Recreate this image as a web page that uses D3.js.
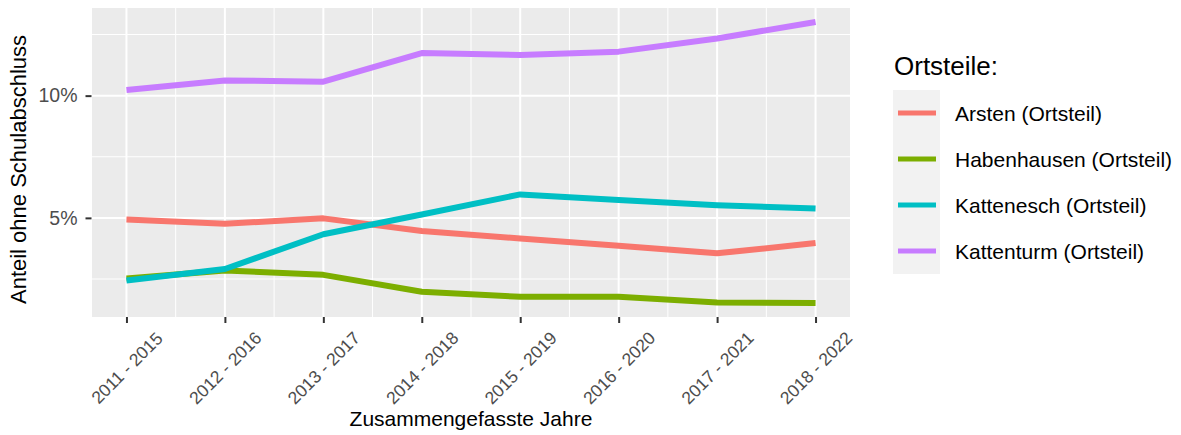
<!DOCTYPE html>
<html>
<head>
<meta charset="utf-8">
<script src="https://cdn.jsdelivr.net/npm/d3@7"></script>
<style>
  html, body { margin: 0; padding: 0; background: #fff; }
  svg { display: block; }
  text { font-family: "Liberation Sans", Arial, sans-serif; }
</style>
</head>
<body>
<div id="chart"></div>
<script>
const categories = ["2011 - 2015", "2012 - 2016", "2013 - 2017", "2014 - 2018", "2015 - 2019", "2016 - 2020", "2017 - 2021", "2018 - 2022"];
const seriesNames = ["Arsten (Ortsteil)", "Habenhausen (Ortsteil)", "Kattenesch (Ortsteil)", "Kattenturm (Ortsteil)"];
const arsten      = [4.93, 4.76, 4.98, 4.46, 4.16, 3.86, 3.55, 3.97];
const habenhausen = [2.52, 2.85, 2.67, 1.98, 1.77, 1.77, 1.54, 1.52];
const kattenesch  = [2.44, 2.91, 4.33, 5.14, 5.96, 5.73, 5.52, 5.38];
const kattenturm  = [10.23, 10.62, 10.57, 11.74, 11.66, 11.80, 12.34, 13.01];
const colors = ["#F8766D", "#7CAE00", "#00BFC4", "#C77CFF"];
const yMajorTicks = [5, 10];
const yMinorTicks = [2.5, 7.5, 12.5];
const yTickLabels = ["5%", "10%"];
const xTitle = "Zusammengefasste Jahre";
const yTitle = "Anteil ohne Schulabschluss";
const legendTitle = "Ortsteile:";

const seriesValues = [arsten, habenhausen, kattenesch, kattenturm];

const W = 1181, H = 435;
const panel = { left: 92, right: 850, top: 8, bottom: 317 };

const svg = d3.select("#chart").append("svg").attr("width", W).attr("height", H);

// scales (continuous-style 5% expansion like ggplot)
const nCat = categories.length;
const xPad = (nCat - 1) * 0.05;
const x = d3.scaleLinear().domain([0 - xPad, nCat - 1 + xPad]).range([panel.left, panel.right]);
const allVals = seriesValues.flat();
const yMin = d3.min(allVals), yMax = d3.max(allVals);
const yPad = (yMax - yMin) * 0.05;
const y = d3.scaleLinear().domain([yMin - yPad, yMax + yPad]).range([panel.bottom, panel.top]);

// panel background
svg.append("rect")
  .attr("x", panel.left).attr("y", panel.top)
  .attr("width", panel.right - panel.left).attr("height", panel.bottom - panel.top)
  .attr("fill", "#EBEBEB");

const grid = svg.append("g");
grid.selectAll(".hmin").data(yMinorTicks).enter().append("line")
  .attr("x1", panel.left).attr("x2", panel.right)
  .attr("y1", d => y(d)).attr("y2", d => y(d))
  .attr("stroke", "#fff").attr("stroke-width", 1);
const xMinor = d3.range(0, nCat - 1).map(i => i + 0.5);
grid.selectAll(".vmin").data(xMinor).enter().append("line")
  .attr("y1", panel.top).attr("y2", panel.bottom)
  .attr("x1", d => x(d)).attr("x2", d => x(d))
  .attr("stroke", "#fff").attr("stroke-width", 1);
grid.selectAll(".hmaj").data(yMajorTicks).enter().append("line")
  .attr("x1", panel.left).attr("x2", panel.right)
  .attr("y1", d => y(d)).attr("y2", d => y(d))
  .attr("stroke", "#fff").attr("stroke-width", 2);
grid.selectAll(".vmaj").data(d3.range(nCat)).enter().append("line")
  .attr("y1", panel.top).attr("y2", panel.bottom)
  .attr("x1", d => x(d)).attr("x2", d => x(d))
  .attr("stroke", "#fff").attr("stroke-width", 2);

// lines
const line = d3.line().x((d, i) => x(i)).y(d => y(d));
svg.append("g").selectAll("path").data(seriesValues).enter().append("path")
  .attr("d", d => line(d))
  .attr("fill", "none")
  .attr("stroke", (d, i) => colors[i])
  .attr("stroke-width", 6)
  .attr("stroke-linejoin", "round")
  .attr("stroke-linecap", "butt");

// y axis
const yAxis = d3.axisLeft(y).tickValues(yMajorTicks)
  .tickFormat((d, i) => yTickLabels[i]).tickSize(6).tickPadding(8);
const gy = svg.append("g").attr("transform", `translate(${panel.left - 0.5},0)`).call(yAxis);
gy.select(".domain").remove();
gy.selectAll(".tick line").attr("stroke", "#333").attr("stroke-width", 2);
gy.selectAll(".tick text").attr("fill", "#4D4D4D").style("font-size", "19.5px")
  .attr("font-family", "Liberation Sans, Arial, sans-serif");

// x axis
const xAxis = d3.axisBottom(x).tickValues(d3.range(nCat))
  .tickFormat(i => categories[i]).tickSize(6).tickPadding(0);
const gx = svg.append("g").attr("transform", `translate(0,${panel.bottom})`).call(xAxis);
gx.select(".domain").remove();
gx.selectAll(".tick line").attr("stroke", "#333").attr("stroke-width", 2);
gx.selectAll(".tick text")
  .attr("fill", "#4D4D4D").style("font-size", "17.5px")
  .attr("font-family", "Liberation Sans, Arial, sans-serif")
  .attr("text-anchor", "middle")
  .attr("dy", null)
  .attr("dominant-baseline", "central")
  .attr("y", 0)
  .attr("transform", "translate(0,51) rotate(-45)");

// axis titles
svg.append("text")
  .attr("x", (panel.left + panel.right) / 2).attr("y", 426)
  .attr("text-anchor", "middle").attr("fill", "#000")
  .style("font-size", "21px").text(xTitle);
svg.append("text")
  .attr("transform", `translate(26,${(panel.top + panel.bottom) / 2 + 7}) rotate(-90)`)
  .attr("text-anchor", "middle").attr("fill", "#000")
  .style("font-size", "22px").text(yTitle);

// legend
const lg = svg.append("g");
lg.append("text").attr("x", 894).attr("y", 75).attr("fill", "#000")
  .style("font-size", "26px").text(legendTitle);
const keyTop = 90, keyH = 46;
lg.append("rect").attr("x", 893).attr("y", keyTop)
  .attr("width", 47).attr("height", keyH * seriesNames.length)
  .attr("fill", "#F2F2F2");
const items = lg.selectAll(".item").data(seriesNames).enter().append("g")
  .attr("transform", (d, i) => `translate(0,${keyTop + keyH * i + keyH / 2})`);
items.append("line").attr("x1", 898).attr("x2", 936).attr("y1", 0).attr("y2", 0)
  .attr("stroke", (d, i) => colors[i]).attr("stroke-width", 5);
items.append("text").attr("x", 955).attr("y", 0).attr("dominant-baseline", "central")
  .attr("fill", "#000").style("font-size", "21px").text(d => d);
</script>
</body>
</html>
